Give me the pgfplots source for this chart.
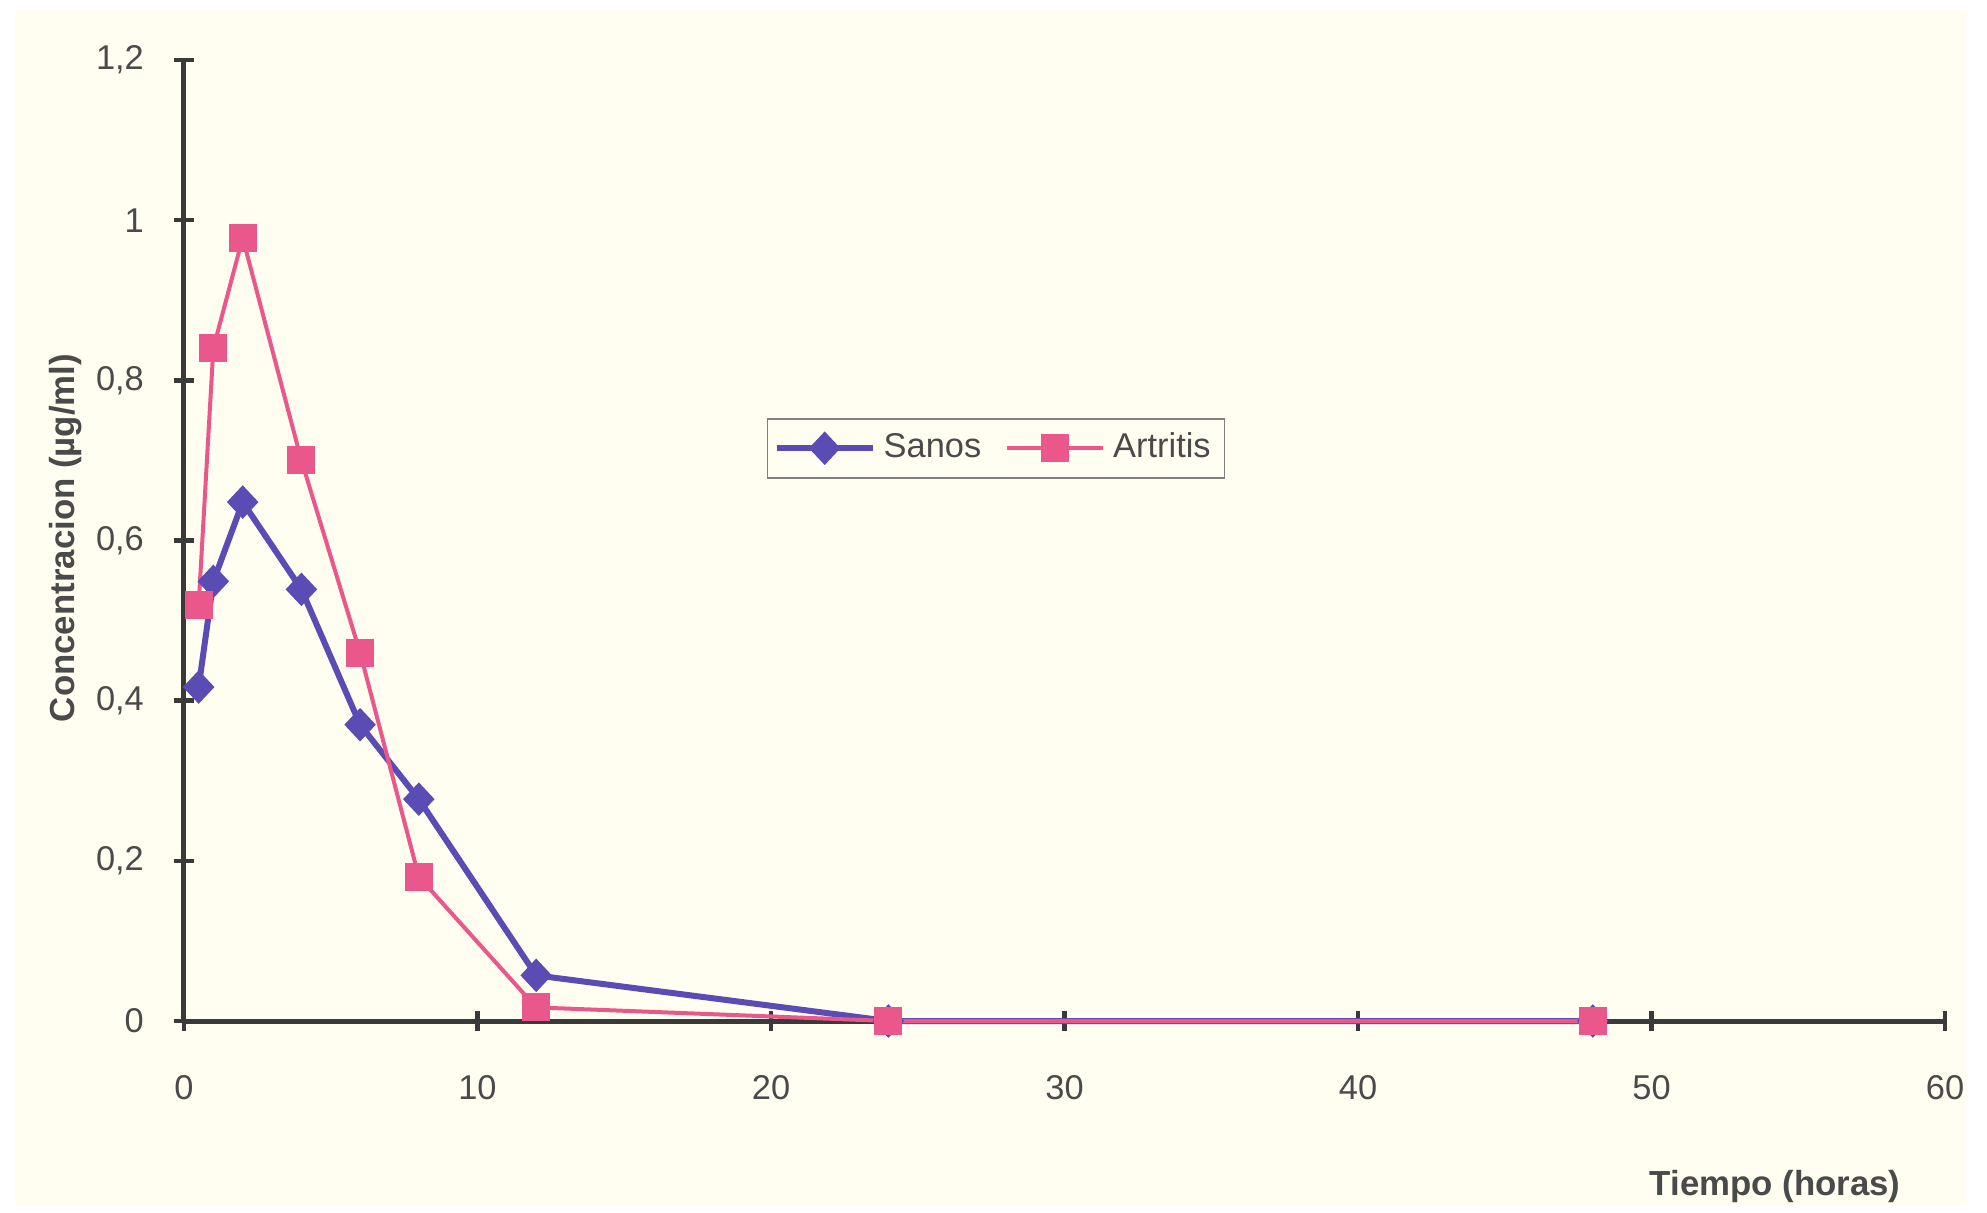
\documentclass[border=0pt]{standalone}
\usepackage{pgfplots}
\pgfplotsset{compat=1.18}
\usepackage{fontspec}
\setmainfont{Liberation Sans}
\definecolor{cream}{HTML}{FFFEF0}
\definecolor{axisgray}{HTML}{3A3A3A}
\definecolor{textgray}{HTML}{4A4A4A}
\definecolor{sanos}{HTML}{5A4CB4}
\definecolor{artritis}{HTML}{E9578B}
\begin{document}
\begin{tikzpicture}
\path[use as bounding box] (-46pt,-47.75pt) rectangle (450.75pt,255.25pt);
\fill[white] (-46pt,-47.75pt) rectangle (450.75pt,255.25pt);
\fill[cream] (-42.25pt,-46.25pt) rectangle (445.5pt,252.75pt);
\begin{axis}[
  at={(0pt,0pt)}, anchor=origin,
  scale only axis,
  width=440.25pt, height=240.25pt,
  xmin=0, xmax=60, ymin=0, ymax=1.2,
  axis lines=left,
  axis line style={-, line width=1.25pt, color=axisgray},
  xtick={0,10,20,30,40,50,60},
  xticklabels={0,10,20,30,40,50,60},
  ytick={0,0.2,0.4,0.6,0.8,1,1.2},
  yticklabels={0,{0,2},{0,4},{0,6},{0,8},1,{1,2}},
  tick align=center,
  major tick length=5pt,
  tick style={line width=1.1pt, color=axisgray},
  tick label style={font=\fontsize{8.6}{10}\selectfont, text=textgray},
  xticklabel style={yshift=-7.5pt},
  yticklabel style={xshift=-4pt},
  xlabel={Tiempo (horas)},
  ylabel={Concentracion (µg/ml)},
  label style={font=\fontsize{8.7}{10}\selectfont\bfseries, text=textgray},
  xlabel style={at={(axis description cs:0.9035,-0.1727)}, anchor=center},
  ylabel style={at={(axis description cs:-0.067,0.5026)}, anchor=center},
  legend columns=2,
  legend style={at={(axis description cs:0.331,0.6275)}, anchor=north west,
    draw=gray, line width=0.4pt, fill=cream,
    font=\fontsize{8.6}{10}\selectfont, text=textgray,
    inner xsep=1.5pt, inner ysep=1.5pt,
    /tikz/every even column/.append style={column sep=4pt}},
  legend image code/.code={\draw[mark repeat=2,mark phase=2,#1] plot coordinates {(0pt,0pt) (12pt,0pt) (24pt,0pt)};},
  clip=false,
]
\addplot[color=sanos, line width=1.5pt, mark=diamond*, mark size=3.1pt,
  mark options={xscale=1.25, solid, fill=sanos}]
  coordinates {(0.5,0.417) (1,0.549) (2,0.648) (4,0.539) (6,0.370) (8,0.277) (12,0.057) (24,0) (48,0)};
\addlegendentry{Sanos}
\addplot[color=artritis, line width=1pt, mark=square*, mark size=3pt,
  mark options={solid, fill=artritis}]
  coordinates {(0.5,0.52) (1,0.84) (2,0.978) (4,0.70) (6,0.46) (8,0.18) (12,0.017) (24,0) (48,0)};
\addlegendentry{Artritis}
\end{axis}
\end{tikzpicture}
\end{document}
